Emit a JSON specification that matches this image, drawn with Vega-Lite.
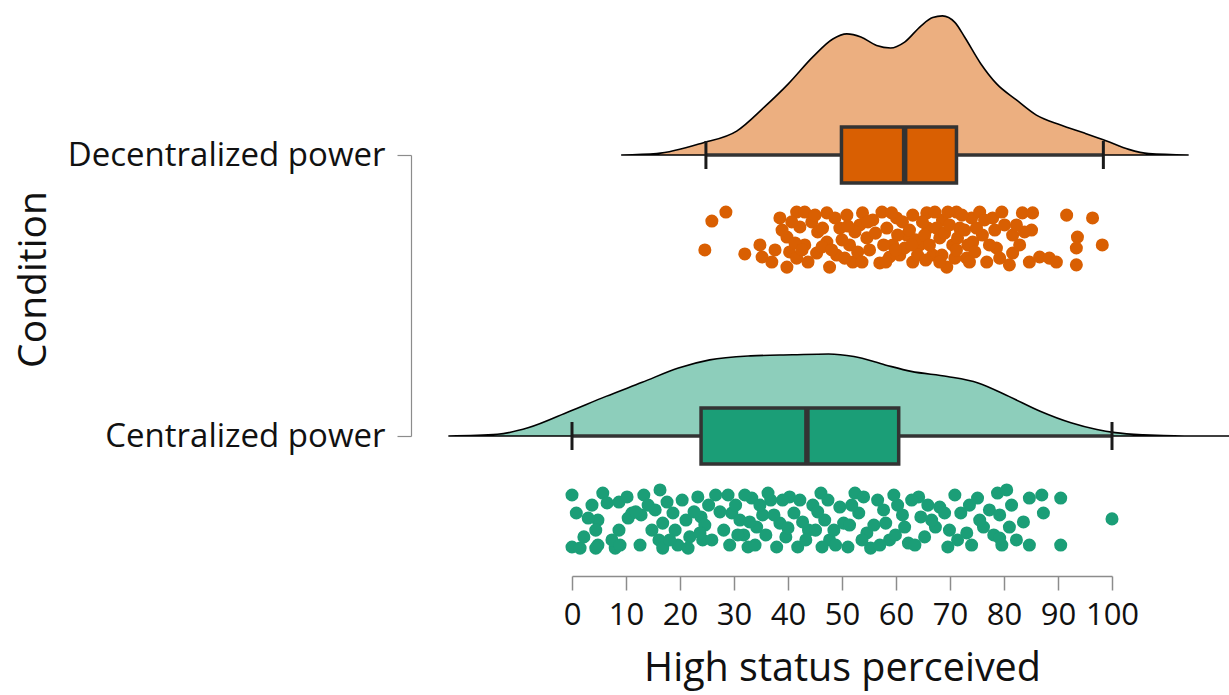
{
  "$schema": "https://vega.github.io/schema/vega-lite/v6.json",
  "autosize": {"type": "none"},
  "padding": {"left": 572, "right": 117, "top": 155, "bottom": 259},
  "width": 540,
  "height": 281,
  "background": "white",
  "config": {"view": {"stroke": null}, "font": "Open Sans", "axis": {"grid": false}},
  "datasets": {
    "density": [
      {"g": "Decentralized power", "value": 9.1, "top": 1.0, "base": 1},
      {"g": "Decentralized power", "value": 15.7, "top": 1.005, "base": 1},
      {"g": "Decentralized power", "value": 24.2, "top": 1.043, "base": 1},
      {"g": "Decentralized power", "value": 30.5, "top": 1.085, "base": 1},
      {"g": "Decentralized power", "value": 35.7, "top": 1.172, "base": 1},
      {"g": "Decentralized power", "value": 40.1, "top": 1.254, "base": 1},
      {"g": "Decentralized power", "value": 44.6, "top": 1.349, "base": 1},
      {"g": "Decentralized power", "value": 48.3, "top": 1.413, "base": 1},
      {"g": "Decentralized power", "value": 50.9, "top": 1.431, "base": 1},
      {"g": "Decentralized power", "value": 53.5, "top": 1.42, "base": 1},
      {"g": "Decentralized power", "value": 56.4, "top": 1.39, "base": 1},
      {"g": "Decentralized power", "value": 59.0, "top": 1.381, "base": 1},
      {"g": "Decentralized power", "value": 61.6, "top": 1.402, "base": 1},
      {"g": "Decentralized power", "value": 64.6, "top": 1.459, "base": 1},
      {"g": "Decentralized power", "value": 66.8, "top": 1.489, "base": 1},
      {"g": "Decentralized power", "value": 68.6, "top": 1.495, "base": 1},
      {"g": "Decentralized power", "value": 70.9, "top": 1.472, "base": 1},
      {"g": "Decentralized power", "value": 72.7, "top": 1.42, "base": 1},
      {"g": "Decentralized power", "value": 75.7, "top": 1.325, "base": 1},
      {"g": "Decentralized power", "value": 78.6, "top": 1.254, "base": 1},
      {"g": "Decentralized power", "value": 82.3, "top": 1.196, "base": 1},
      {"g": "Decentralized power", "value": 86.0, "top": 1.142, "base": 1},
      {"g": "Decentralized power", "value": 90.5, "top": 1.107, "base": 1},
      {"g": "Decentralized power", "value": 94.9, "top": 1.078, "base": 1},
      {"g": "Decentralized power", "value": 99.0, "top": 1.05, "base": 1},
      {"g": "Decentralized power", "value": 103.1, "top": 1.02, "base": 1},
      {"g": "Decentralized power", "value": 106.8, "top": 1.005, "base": 1},
      {"g": "Decentralized power", "value": 114.2, "top": 1.0, "base": 1},
      {"g": "Centralized power", "value": -22.9, "top": 0.0, "base": 0},
      {"g": "Centralized power", "value": -13.8, "top": 0.006, "base": 0},
      {"g": "Centralized power", "value": -8.0, "top": 0.03, "base": 0},
      {"g": "Centralized power", "value": -0.4, "top": 0.088, "base": 0},
      {"g": "Centralized power", "value": 6.3, "top": 0.141, "base": 0},
      {"g": "Centralized power", "value": 13.0, "top": 0.191, "base": 0},
      {"g": "Centralized power", "value": 19.7, "top": 0.242, "base": 0},
      {"g": "Centralized power", "value": 25.5, "top": 0.271, "base": 0},
      {"g": "Centralized power", "value": 33.1, "top": 0.285, "base": 0},
      {"g": "Centralized power", "value": 40.8, "top": 0.289, "base": 0},
      {"g": "Centralized power", "value": 47.5, "top": 0.292, "base": 0},
      {"g": "Centralized power", "value": 52.2, "top": 0.283, "base": 0},
      {"g": "Centralized power", "value": 58.0, "top": 0.253, "base": 0},
      {"g": "Centralized power", "value": 62.8, "top": 0.23, "base": 0},
      {"g": "Centralized power", "value": 69.5, "top": 0.212, "base": 0},
      {"g": "Centralized power", "value": 75.2, "top": 0.189, "base": 0},
      {"g": "Centralized power", "value": 80.9, "top": 0.141, "base": 0},
      {"g": "Centralized power", "value": 86.7, "top": 0.088, "base": 0},
      {"g": "Centralized power", "value": 92.4, "top": 0.047, "base": 0},
      {"g": "Centralized power", "value": 97.2, "top": 0.023, "base": 0},
      {"g": "Centralized power", "value": 100.6, "top": 0.012, "base": 0},
      {"g": "Centralized power", "value": 105.8, "top": 0.004, "base": 0},
      {"g": "Centralized power", "value": 113.4, "top": 0.0, "base": 0},
      {"g": "Centralized power", "value": 130.0, "top": 0.0, "base": 0}
    ],
    "summary": [
      {"g": "Decentralized power", "level": 1, "lo": 24.8, "q1": 49.9, "med": 61.6, "q3": 71.2, "hi": 98.4},
      {"g": "Centralized power", "level": 0, "lo": 0, "q1": 23.9, "med": 43.5, "q3": 60.5, "hi": 100}
    ],
    "points": [
      {"g": "Decentralized power", "value": 28.5, "y": 0.797},
      {"g": "Decentralized power", "value": 25.9, "y": 0.765},
      {"g": "Decentralized power", "value": 24.6, "y": 0.662},
      {"g": "Decentralized power", "value": 32.0, "y": 0.648},
      {"g": "Decentralized power", "value": 35.2, "y": 0.637},
      {"g": "Decentralized power", "value": 37.0, "y": 0.619},
      {"g": "Decentralized power", "value": 38.5, "y": 0.776},
      {"g": "Decentralized power", "value": 41.6, "y": 0.797},
      {"g": "Decentralized power", "value": 39.8, "y": 0.708},
      {"g": "Decentralized power", "value": 40.3, "y": 0.655},
      {"g": "Decentralized power", "value": 39.8, "y": 0.601},
      {"g": "Decentralized power", "value": 42.2, "y": 0.744},
      {"g": "Decentralized power", "value": 43.1, "y": 0.68},
      {"g": "Decentralized power", "value": 41.6, "y": 0.633},
      {"g": "Decentralized power", "value": 45.3, "y": 0.651},
      {"g": "Decentralized power", "value": 47.2, "y": 0.794},
      {"g": "Decentralized power", "value": 47.2, "y": 0.69},
      {"g": "Decentralized power", "value": 47.7, "y": 0.601},
      {"g": "Decentralized power", "value": 49.6, "y": 0.74},
      {"g": "Decentralized power", "value": 49.0, "y": 0.644},
      {"g": "Decentralized power", "value": 50.9, "y": 0.786},
      {"g": "Decentralized power", "value": 51.4, "y": 0.68},
      {"g": "Decentralized power", "value": 52.0, "y": 0.619},
      {"g": "Decentralized power", "value": 53.3, "y": 0.751},
      {"g": "Decentralized power", "value": 54.6, "y": 0.705},
      {"g": "Decentralized power", "value": 53.8, "y": 0.794},
      {"g": "Decentralized power", "value": 55.7, "y": 0.769},
      {"g": "Decentralized power", "value": 57.0, "y": 0.616},
      {"g": "Decentralized power", "value": 57.4, "y": 0.797},
      {"g": "Decentralized power", "value": 58.3, "y": 0.74},
      {"g": "Decentralized power", "value": 59.4, "y": 0.68},
      {"g": "Decentralized power", "value": 60.1, "y": 0.776},
      {"g": "Decentralized power", "value": 60.7, "y": 0.644},
      {"g": "Decentralized power", "value": 62.0, "y": 0.715},
      {"g": "Decentralized power", "value": 63.1, "y": 0.786},
      {"g": "Decentralized power", "value": 63.1, "y": 0.619},
      {"g": "Decentralized power", "value": 64.4, "y": 0.68},
      {"g": "Decentralized power", "value": 65.7, "y": 0.794},
      {"g": "Decentralized power", "value": 65.9, "y": 0.74},
      {"g": "Decentralized power", "value": 66.8, "y": 0.644},
      {"g": "Decentralized power", "value": 68.1, "y": 0.705},
      {"g": "Decentralized power", "value": 68.6, "y": 0.769},
      {"g": "Decentralized power", "value": 69.4, "y": 0.601},
      {"g": "Decentralized power", "value": 70.5, "y": 0.68},
      {"g": "Decentralized power", "value": 71.2, "y": 0.797},
      {"g": "Decentralized power", "value": 71.8, "y": 0.74},
      {"g": "Decentralized power", "value": 73.1, "y": 0.633},
      {"g": "Decentralized power", "value": 74.0, "y": 0.776},
      {"g": "Decentralized power", "value": 74.2, "y": 0.69},
      {"g": "Decentralized power", "value": 75.5, "y": 0.797},
      {"g": "Decentralized power", "value": 76.0, "y": 0.715},
      {"g": "Decentralized power", "value": 76.8, "y": 0.619},
      {"g": "Decentralized power", "value": 77.9, "y": 0.776},
      {"g": "Decentralized power", "value": 78.6, "y": 0.669},
      {"g": "Decentralized power", "value": 79.6, "y": 0.797},
      {"g": "Decentralized power", "value": 81.6, "y": 0.715},
      {"g": "Decentralized power", "value": 81.6, "y": 0.651},
      {"g": "Decentralized power", "value": 81.0, "y": 0.609},
      {"g": "Decentralized power", "value": 83.4, "y": 0.794},
      {"g": "Decentralized power", "value": 85.1, "y": 0.733},
      {"g": "Decentralized power", "value": 85.3, "y": 0.794},
      {"g": "Decentralized power", "value": 84.7, "y": 0.619},
      {"g": "Decentralized power", "value": 86.6, "y": 0.637},
      {"g": "Decentralized power", "value": 88.4, "y": 0.633},
      {"g": "Decentralized power", "value": 89.7, "y": 0.619},
      {"g": "Decentralized power", "value": 91.6, "y": 0.786},
      {"g": "Decentralized power", "value": 93.6, "y": 0.708},
      {"g": "Decentralized power", "value": 93.4, "y": 0.669},
      {"g": "Decentralized power", "value": 93.4, "y": 0.609},
      {"g": "Decentralized power", "value": 96.4, "y": 0.776},
      {"g": "Decentralized power", "value": 98.2, "y": 0.68},
      {"g": "Decentralized power", "value": 43.1, "y": 0.797},
      {"g": "Decentralized power", "value": 44.4, "y": 0.762},
      {"g": "Decentralized power", "value": 45.5, "y": 0.726},
      {"g": "Decentralized power", "value": 46.3, "y": 0.673},
      {"g": "Decentralized power", "value": 43.7, "y": 0.619},
      {"g": "Decentralized power", "value": 48.7, "y": 0.776},
      {"g": "Decentralized power", "value": 50.0, "y": 0.698},
      {"g": "Decentralized power", "value": 50.5, "y": 0.633},
      {"g": "Decentralized power", "value": 52.4, "y": 0.726},
      {"g": "Decentralized power", "value": 52.9, "y": 0.655},
      {"g": "Decentralized power", "value": 54.8, "y": 0.762},
      {"g": "Decentralized power", "value": 55.1, "y": 0.662},
      {"g": "Decentralized power", "value": 56.2, "y": 0.722},
      {"g": "Decentralized power", "value": 57.7, "y": 0.68},
      {"g": "Decentralized power", "value": 58.8, "y": 0.637},
      {"g": "Decentralized power", "value": 59.2, "y": 0.794},
      {"g": "Decentralized power", "value": 60.3, "y": 0.715},
      {"g": "Decentralized power", "value": 61.2, "y": 0.762},
      {"g": "Decentralized power", "value": 61.6, "y": 0.669},
      {"g": "Decentralized power", "value": 62.5, "y": 0.733},
      {"g": "Decentralized power", "value": 63.6, "y": 0.698},
      {"g": "Decentralized power", "value": 64.0, "y": 0.644},
      {"g": "Decentralized power", "value": 64.9, "y": 0.762},
      {"g": "Decentralized power", "value": 65.3, "y": 0.715},
      {"g": "Decentralized power", "value": 66.2, "y": 0.68},
      {"g": "Decentralized power", "value": 67.2, "y": 0.797},
      {"g": "Decentralized power", "value": 67.5, "y": 0.74},
      {"g": "Decentralized power", "value": 68.5, "y": 0.644},
      {"g": "Decentralized power", "value": 69.0, "y": 0.722},
      {"g": "Decentralized power", "value": 69.6, "y": 0.797},
      {"g": "Decentralized power", "value": 69.9, "y": 0.751},
      {"g": "Decentralized power", "value": 70.9, "y": 0.633},
      {"g": "Decentralized power", "value": 71.4, "y": 0.705},
      {"g": "Decentralized power", "value": 72.2, "y": 0.786},
      {"g": "Decentralized power", "value": 72.7, "y": 0.733},
      {"g": "Decentralized power", "value": 73.3, "y": 0.68},
      {"g": "Decentralized power", "value": 74.6, "y": 0.655},
      {"g": "Decentralized power", "value": 74.9, "y": 0.74},
      {"g": "Decentralized power", "value": 76.4, "y": 0.769},
      {"g": "Decentralized power", "value": 77.3, "y": 0.68},
      {"g": "Decentralized power", "value": 78.3, "y": 0.733},
      {"g": "Decentralized power", "value": 79.2, "y": 0.633},
      {"g": "Decentralized power", "value": 80.1, "y": 0.751},
      {"g": "Decentralized power", "value": 82.9, "y": 0.68},
      {"g": "Decentralized power", "value": 83.8, "y": 0.726},
      {"g": "Decentralized power", "value": 34.8, "y": 0.68},
      {"g": "Decentralized power", "value": 37.6, "y": 0.662},
      {"g": "Decentralized power", "value": 38.9, "y": 0.733},
      {"g": "Decentralized power", "value": 40.7, "y": 0.762},
      {"g": "Decentralized power", "value": 41.3, "y": 0.687},
      {"g": "Decentralized power", "value": 42.6, "y": 0.662},
      {"g": "Decentralized power", "value": 45.0, "y": 0.786},
      {"g": "Decentralized power", "value": 46.4, "y": 0.74},
      {"g": "Decentralized power", "value": 48.1, "y": 0.662},
      {"g": "Decentralized power", "value": 51.1, "y": 0.747},
      {"g": "Decentralized power", "value": 53.7, "y": 0.619},
      {"g": "Decentralized power", "value": 58.1, "y": 0.619},
      {"g": "Decentralized power", "value": 59.9, "y": 0.662},
      {"g": "Decentralized power", "value": 62.9, "y": 0.68},
      {"g": "Decentralized power", "value": 65.5, "y": 0.626},
      {"g": "Decentralized power", "value": 68.1, "y": 0.619},
      {"g": "Decentralized power", "value": 71.2, "y": 0.662},
      {"g": "Decentralized power", "value": 73.6, "y": 0.619},
      {"g": "Decentralized power", "value": 82.3, "y": 0.751},
      {"g": "Centralized power", "value": 0, "y": -0.21},
      {"g": "Centralized power", "value": 0.8, "y": -0.274},
      {"g": "Centralized power", "value": 0, "y": -0.395},
      {"g": "Centralized power", "value": 1.5, "y": -0.399},
      {"g": "Centralized power", "value": 5.7, "y": -0.203},
      {"g": "Centralized power", "value": 6.5, "y": -0.238},
      {"g": "Centralized power", "value": 8.7, "y": -0.235},
      {"g": "Centralized power", "value": 4.8, "y": -0.299},
      {"g": "Centralized power", "value": 4.4, "y": -0.335},
      {"g": "Centralized power", "value": 8.7, "y": -0.335},
      {"g": "Centralized power", "value": 4.8, "y": -0.388},
      {"g": "Centralized power", "value": 8.0, "y": -0.399},
      {"g": "Centralized power", "value": 11.1, "y": -0.274},
      {"g": "Centralized power", "value": 12.8, "y": -0.281},
      {"g": "Centralized power", "value": 13.3, "y": -0.21},
      {"g": "Centralized power", "value": 15.4, "y": -0.263},
      {"g": "Centralized power", "value": 16.8, "y": -0.31},
      {"g": "Centralized power", "value": 16.1, "y": -0.37},
      {"g": "Centralized power", "value": 16.8, "y": -0.399},
      {"g": "Centralized power", "value": 18.7, "y": -0.274},
      {"g": "Centralized power", "value": 19.1, "y": -0.335},
      {"g": "Centralized power", "value": 19.6, "y": -0.388},
      {"g": "Centralized power", "value": 21.1, "y": -0.299},
      {"g": "Centralized power", "value": 21.8, "y": -0.359},
      {"g": "Centralized power", "value": 23.3, "y": -0.217},
      {"g": "Centralized power", "value": 23.9, "y": -0.288},
      {"g": "Centralized power", "value": 24.2, "y": -0.37},
      {"g": "Centralized power", "value": 25.3, "y": -0.246},
      {"g": "Centralized power", "value": 28.9, "y": -0.21},
      {"g": "Centralized power", "value": 29.6, "y": -0.274},
      {"g": "Centralized power", "value": 31.1, "y": -0.299},
      {"g": "Centralized power", "value": 31.8, "y": -0.352},
      {"g": "Centralized power", "value": 32.6, "y": -0.395},
      {"g": "Centralized power", "value": 33.3, "y": -0.221},
      {"g": "Centralized power", "value": 34.2, "y": -0.324},
      {"g": "Centralized power", "value": 35.3, "y": -0.281},
      {"g": "Centralized power", "value": 36.8, "y": -0.228},
      {"g": "Centralized power", "value": 38.5, "y": -0.31},
      {"g": "Centralized power", "value": 39.6, "y": -0.359},
      {"g": "Centralized power", "value": 40.3, "y": -0.217},
      {"g": "Centralized power", "value": 41.1, "y": -0.274},
      {"g": "Centralized power", "value": 41.8, "y": -0.395},
      {"g": "Centralized power", "value": 43.8, "y": -0.335},
      {"g": "Centralized power", "value": 44.6, "y": -0.246},
      {"g": "Centralized power", "value": 46.1, "y": -0.203},
      {"g": "Centralized power", "value": 46.8, "y": -0.299},
      {"g": "Centralized power", "value": 47.7, "y": -0.37},
      {"g": "Centralized power", "value": 49.6, "y": -0.253},
      {"g": "Centralized power", "value": 50.3, "y": -0.31},
      {"g": "Centralized power", "value": 51.1, "y": -0.395},
      {"g": "Centralized power", "value": 52.4, "y": -0.203},
      {"g": "Centralized power", "value": 53.1, "y": -0.274},
      {"g": "Centralized power", "value": 54.6, "y": -0.345},
      {"g": "Centralized power", "value": 55.3, "y": -0.399},
      {"g": "Centralized power", "value": 56.6, "y": -0.228},
      {"g": "Centralized power", "value": 58.1, "y": -0.31},
      {"g": "Centralized power", "value": 58.8, "y": -0.37},
      {"g": "Centralized power", "value": 60.3, "y": -0.246},
      {"g": "Centralized power", "value": 61.6, "y": -0.324},
      {"g": "Centralized power", "value": 62.3, "y": -0.381},
      {"g": "Centralized power", "value": 64.2, "y": -0.217},
      {"g": "Centralized power", "value": 64.6, "y": -0.288},
      {"g": "Centralized power", "value": 65.3, "y": -0.359},
      {"g": "Centralized power", "value": 67.3, "y": -0.324},
      {"g": "Centralized power", "value": 68.1, "y": -0.253},
      {"g": "Centralized power", "value": 69.6, "y": -0.395},
      {"g": "Centralized power", "value": 70.9, "y": -0.21},
      {"g": "Centralized power", "value": 72.0, "y": -0.274},
      {"g": "Centralized power", "value": 73.1, "y": -0.345},
      {"g": "Centralized power", "value": 75.1, "y": -0.221},
      {"g": "Centralized power", "value": 76.2, "y": -0.324},
      {"g": "Centralized power", "value": 77.3, "y": -0.263},
      {"g": "Centralized power", "value": 78.8, "y": -0.203},
      {"g": "Centralized power", "value": 79.6, "y": -0.388},
      {"g": "Centralized power", "value": 80.5, "y": -0.192},
      {"g": "Centralized power", "value": 82.3, "y": -0.37},
      {"g": "Centralized power", "value": 87.0, "y": -0.21},
      {"g": "Centralized power", "value": 87.3, "y": -0.274},
      {"g": "Centralized power", "value": 90.5, "y": -0.221},
      {"g": "Centralized power", "value": 90.5, "y": -0.388},
      {"g": "Centralized power", "value": 100, "y": -0.295},
      {"g": "Centralized power", "value": 10.4, "y": -0.292},
      {"g": "Centralized power", "value": 11.8, "y": -0.27},
      {"g": "Centralized power", "value": 14.1, "y": -0.246},
      {"g": "Centralized power", "value": 14.8, "y": -0.335},
      {"g": "Centralized power", "value": 17.6, "y": -0.235},
      {"g": "Centralized power", "value": 18.1, "y": -0.37},
      {"g": "Centralized power", "value": 20.4, "y": -0.228},
      {"g": "Centralized power", "value": 21.5, "y": -0.399},
      {"g": "Centralized power", "value": 22.6, "y": -0.27},
      {"g": "Centralized power", "value": 24.6, "y": -0.317},
      {"g": "Centralized power", "value": 25.9, "y": -0.37},
      {"g": "Centralized power", "value": 26.6, "y": -0.21},
      {"g": "Centralized power", "value": 27.4, "y": -0.27},
      {"g": "Centralized power", "value": 28.1, "y": -0.335},
      {"g": "Centralized power", "value": 29.2, "y": -0.388},
      {"g": "Centralized power", "value": 30.3, "y": -0.246},
      {"g": "Centralized power", "value": 30.7, "y": -0.352},
      {"g": "Centralized power", "value": 32.0, "y": -0.21},
      {"g": "Centralized power", "value": 32.9, "y": -0.306},
      {"g": "Centralized power", "value": 33.9, "y": -0.388},
      {"g": "Centralized power", "value": 34.8, "y": -0.246},
      {"g": "Centralized power", "value": 35.9, "y": -0.352},
      {"g": "Centralized power", "value": 36.3, "y": -0.203},
      {"g": "Centralized power", "value": 37.4, "y": -0.281},
      {"g": "Centralized power", "value": 37.9, "y": -0.395},
      {"g": "Centralized power", "value": 39.0, "y": -0.228},
      {"g": "Centralized power", "value": 40.0, "y": -0.327},
      {"g": "Centralized power", "value": 42.2, "y": -0.228},
      {"g": "Centralized power", "value": 42.7, "y": -0.306},
      {"g": "Centralized power", "value": 43.3, "y": -0.37},
      {"g": "Centralized power", "value": 45.1, "y": -0.335},
      {"g": "Centralized power", "value": 45.5, "y": -0.27},
      {"g": "Centralized power", "value": 46.3, "y": -0.395},
      {"g": "Centralized power", "value": 47.4, "y": -0.228},
      {"g": "Centralized power", "value": 48.5, "y": -0.335},
      {"g": "Centralized power", "value": 48.8, "y": -0.388},
      {"g": "Centralized power", "value": 51.4, "y": -0.317},
      {"g": "Centralized power", "value": 51.8, "y": -0.246},
      {"g": "Centralized power", "value": 53.7, "y": -0.37},
      {"g": "Centralized power", "value": 54.0, "y": -0.217},
      {"g": "Centralized power", "value": 55.9, "y": -0.317},
      {"g": "Centralized power", "value": 57.0, "y": -0.388},
      {"g": "Centralized power", "value": 57.7, "y": -0.263},
      {"g": "Centralized power", "value": 59.6, "y": -0.21},
      {"g": "Centralized power", "value": 59.9, "y": -0.352},
      {"g": "Centralized power", "value": 61.2, "y": -0.281},
      {"g": "Centralized power", "value": 62.9, "y": -0.228},
      {"g": "Centralized power", "value": 63.5, "y": -0.388},
      {"g": "Centralized power", "value": 65.9, "y": -0.246},
      {"g": "Centralized power", "value": 66.6, "y": -0.299},
      {"g": "Centralized power", "value": 69.0, "y": -0.274},
      {"g": "Centralized power", "value": 69.9, "y": -0.335},
      {"g": "Centralized power", "value": 71.4, "y": -0.37},
      {"g": "Centralized power", "value": 73.6, "y": -0.246},
      {"g": "Centralized power", "value": 74.0, "y": -0.388},
      {"g": "Centralized power", "value": 75.5, "y": -0.299},
      {"g": "Centralized power", "value": 78.1, "y": -0.352},
      {"g": "Centralized power", "value": 79.2, "y": -0.281},
      {"g": "Centralized power", "value": 81.0, "y": -0.324},
      {"g": "Centralized power", "value": 81.4, "y": -0.246},
      {"g": "Centralized power", "value": 83.6, "y": -0.306},
      {"g": "Centralized power", "value": 84.7, "y": -0.388},
      {"g": "Centralized power", "value": 7.4, "y": -0.37},
      {"g": "Centralized power", "value": 3.0, "y": -0.292},
      {"g": "Centralized power", "value": 3.7, "y": -0.246},
      {"g": "Centralized power", "value": 2.2, "y": -0.359},
      {"g": "Centralized power", "value": 16.3, "y": -0.192},
      {"g": "Centralized power", "value": 12.6, "y": -0.388},
      {"g": "Centralized power", "value": 23.7, "y": -0.345},
      {"g": "Centralized power", "value": 4.4, "y": -0.399},
      {"g": "Centralized power", "value": 8.9, "y": -0.388},
      {"g": "Centralized power", "value": 10.2, "y": -0.217},
      {"g": "Centralized power", "value": 79.2, "y": -0.363},
      {"g": "Centralized power", "value": 84.7, "y": -0.221}
    ]
  },
  "layer": [
    {
      "data": {"name": "density"},
      "transform": [{"filter": "datum.g === 'Decentralized power'"}],
      "mark": {"type": "area", "fill": "#ECAF80", "stroke": "#000000", "strokeWidth": 1.6, "interpolate": "monotone"},
      "encoding": {
        "x": {
          "field": "value", "type": "quantitative", "title": "High status perceived",
          "scale": {"domain": [0, 100], "nice": false, "zero": false, "padding": 0},
          "axis": {
            "values": [0, 10, 20, 30, 40, 50, 60, 70, 80, 90, 100],
            "offset": 140,
            "domainColor": "#8c8c8c", "domainWidth": 1.5,
            "tickColor": "#8c8c8c", "tickWidth": 1.5, "tickSize": 14,
            "labelFontSize": 31, "labelColor": "#111111", "labelPadding": 10,
            "labelOverlap": false, "labelFlush": false, "labelBound": false,
            "titleFontSize": 39.5, "titleFontWeight": "normal",
            "titleColor": "#111111", "titlePadding": 19
          }
        },
        "y": {
          "field": "top", "type": "quantitative", "title": "Condition",
          "scale": {"domain": [0, 1], "nice": false, "zero": false, "padding": 0},
          "axis": {
            "values": [0, 1],
            "labelExpr": "datum.value == 1 ? 'Decentralized power' : 'Centralized power'",
            "offset": 161,
            "domainColor": "#8c8c8c", "domainWidth": 1.2,
            "tickColor": "#8c8c8c", "tickWidth": 1.2, "tickSize": 14,
            "labelFontSize": 33, "labelColor": "#111111", "labelPadding": 12,
            "labelLimit": 0, "labelOverlap": false, "labelFlush": false, "labelBound": false,
            "titleFontSize": 39, "titleFontWeight": "normal",
            "titleColor": "#111111", "titleBaseline": "alphabetic",
            "titleX": -366, "titleY": 124, "titleAngle": -90, "titleAlign": "center"
          }
        },
        "y2": {"field": "base"}
      }
    },
    {
      "data": {"name": "density"},
      "transform": [{"filter": "datum.g === 'Centralized power'"}],
      "mark": {"type": "area", "fill": "#8DCEBB", "stroke": "#000000", "strokeWidth": 1.6, "interpolate": "monotone"},
      "encoding": {
        "x": {"field": "value", "type": "quantitative", "title": "High status perceived"},
        "y": {"field": "top", "type": "quantitative", "title": "Condition"},
        "y2": {"field": "base"}
      }
    },
    {
      "data": {"name": "summary"},
      "mark": {"type": "rule", "color": "#333333", "strokeWidth": 3.5},
      "encoding": {
        "x": {"field": "lo", "type": "quantitative", "title": "High status perceived"},
        "x2": {"field": "hi"},
        "y": {"field": "level", "type": "quantitative", "title": "Condition"}
      }
    },
    {
      "data": {"name": "summary"},
      "mark": {"type": "tick", "orient": "vertical", "color": "#1a1a1a", "size": 28, "thickness": 3, "opacity": 1},
      "encoding": {
        "x": {"field": "lo", "type": "quantitative", "title": "High status perceived"},
        "y": {"field": "level", "type": "quantitative", "title": "Condition"}
      }
    },
    {
      "data": {"name": "summary"},
      "mark": {"type": "tick", "orient": "vertical", "color": "#1a1a1a", "size": 28, "thickness": 3, "opacity": 1},
      "encoding": {
        "x": {"field": "hi", "type": "quantitative", "title": "High status perceived"},
        "y": {"field": "level", "type": "quantitative", "title": "Condition"}
      }
    },
    {
      "data": {"name": "summary"},
      "mark": {"type": "bar", "size": 56, "stroke": "#333333", "strokeWidth": 3.5, "opacity": 1},
      "encoding": {
        "x": {"field": "q1", "type": "quantitative", "title": "High status perceived"},
        "x2": {"field": "q3"},
        "y": {"field": "level", "type": "quantitative", "title": "Condition"},
        "color": {"field": "g", "type": "nominal", "legend": null,
          "scale": {"domain": ["Decentralized power", "Centralized power"], "range": ["#D95F02", "#1B9E77"]}}
      }
    },
    {
      "data": {"name": "summary"},
      "mark": {"type": "tick", "orient": "vertical", "color": "#333333", "size": 56, "thickness": 5.5, "opacity": 1},
      "encoding": {
        "x": {"field": "med", "type": "quantitative", "title": "High status perceived"},
        "y": {"field": "level", "type": "quantitative", "title": "Condition"}
      }
    },
    {
      "data": {"name": "points"},
      "mark": {"type": "circle", "size": 170, "opacity": 1},
      "encoding": {
        "x": {"field": "value", "type": "quantitative", "title": "High status perceived"},
        "y": {"field": "y", "type": "quantitative", "title": "Condition"},
        "color": {"field": "g", "type": "nominal", "legend": null,
          "scale": {"domain": ["Decentralized power", "Centralized power"], "range": ["#D95F02", "#1B9E77"]}}
      }
    }
  ]
}
